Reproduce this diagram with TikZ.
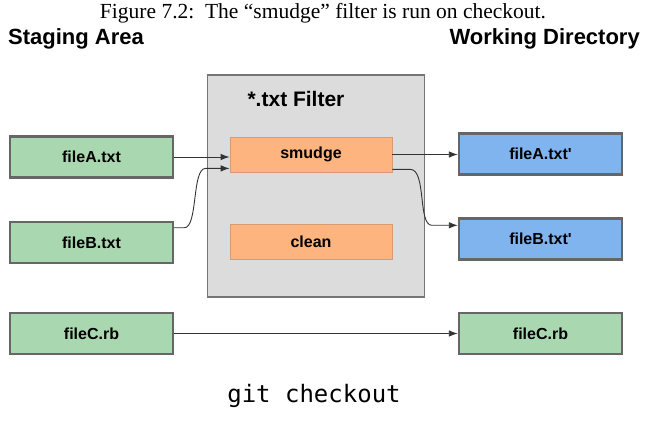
\documentclass[tikz,border=0pt]{standalone}
\usepackage{fontspec}
\setmainfont{Liberation Serif}
\newfontfamily\labelfont{Liberation Sans}
\newfontfamily\codefont{DejaVu Sans Mono}
\usetikzlibrary{arrows.meta,calc}
\definecolor{greenfill}{HTML}{A9D8B0}
\definecolor{bluefill}{HTML}{80B4EE}
\definecolor{orangefill}{HTML}{FEB47F}
\definecolor{orangeline}{HTML}{D89A70}
\definecolor{grayfill}{HTML}{DCDCDC}
\definecolor{boxline}{HTML}{666666}
\definecolor{arrowcol}{HTML}{333333}
\tikzset{
  filebox/.style={draw=boxline, line width=2.4pt, minimum width=163pt, minimum height=41pt,
    inner sep=0pt, font=\labelfont\bfseries\fontsize{16}{18}\selectfont},
  greenbox/.style={filebox, fill=greenfill},
  bluebox/.style={filebox, fill=bluefill},
  opbox/.style={draw=orangeline, line width=0.8pt, fill=orangefill, minimum width=162pt,
    minimum height=35pt, inner sep=0pt, font=\labelfont\bfseries\fontsize{16}{18}\selectfont},
  filterbox/.style={draw=boxline!90, line width=1.3pt, fill=grayfill, minimum width=217pt,
    minimum height=222pt, inner sep=0pt},
  conn/.style={draw=arrowcol, line width=0.9pt, -{Latex[length=9pt,width=6.5pt]}},
  heading/.style={font=\labelfont\bfseries\fontsize{22}{24}\selectfont, inner sep=0pt}
}
\begin{document}
\begin{tikzpicture}[x=1pt,y=-1pt]
\useasboundingbox (0,0) rectangle (646,425);
% caption and headings
\node[inner sep=0pt, anchor=base, font=\fontsize{21.5}{24}\selectfont] (cap) at (323,19)
  {Figure 7.2:\ \ The “smudge” filter is run on checkout.};
\node[heading, anchor=base west] (stag) at (8,45) {Staging Area};
\node[heading, anchor=base east] (work) at (640,45) {Working Directory};
% filter box
\node[filterbox] (filter) at (316,186) {};
\node[inner sep=0pt, anchor=base, font=\labelfont\bfseries\fontsize{21}{24}\selectfont] (ftitle) at (296,107) {*.txt Filter};
\node[opbox] (smudge) at (311,154.5) {smudge};
\node[opbox] (clean) at (311,242) {clean};
% files
\node[greenbox] (fa) at (91.5,157) {fileA.txt};
\node[greenbox] (fb) at (91.5,242.5) {fileB.txt};
\node[greenbox] (fc) at (91.5,333.5) {fileC.rb};
\node[bluebox] (fa2) at (540.5,154) {fileA.txt'};
\node[bluebox] (fb2) at (540.5,239) {fileB.txt'};
\node[greenbox] (fc2) at (540.5,333.5) {fileC.rb};
% connectors
\draw[conn] (fa.east) -- (fa.east -| smudge.west);
\coordinate (bs) at ($(fb.north east)+(0,7)$);
\coordinate (be) at ($(smudge.south west)+(0,-4)$);
\draw[conn] (bs) -- ++(10,0) .. controls ++(14,0) and ($(be)+(-38,0)$) .. ($(be)+(-24,0)$) -- (be);
\draw[conn] (smudge.east) -- (smudge.east -| fa2.west);
\coordinate (ss) at ($(smudge.south east)+(0,-3)$);
\coordinate (se) at ($(fb2.north west)+(0,8)$);
\draw[conn] (ss) -- ++(18,0) .. controls ++(16,0) and ($(se)+(-40,0)$) .. ($(se)+(-26,0)$) -- (se);
\draw[conn] (fc.east) -- (fc2.west);
% command
\node[inner sep=0pt, anchor=base, font=\codefont\fontsize{24}{26}\selectfont] (cmd) at (314,402) {git checkout};
\end{tikzpicture}
\end{document}
